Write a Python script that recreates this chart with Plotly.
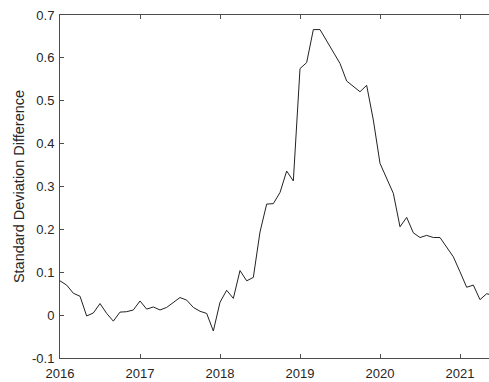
import plotly.graph_objects as go

# Monthly series, January 2016 onward
start_year = 2016
values = [
    0.080, 0.070, 0.051, 0.044, -0.002, 0.005, 0.027, 0.004, -0.014, 0.007, 0.008, 0.012,
    0.033, 0.014, 0.019, 0.012, 0.018, 0.029, 0.041, 0.035, 0.018, 0.009, 0.004, -0.037,
    0.030, 0.058, 0.039, 0.104, 0.080, 0.088, 0.194, 0.259, 0.260, 0.286, 0.336, 0.313,
    0.575, 0.589, 0.666, 0.666, 0.640, 0.614, 0.587, 0.546, 0.534, 0.521, 0.536, 0.455,
    0.354, 0.319, 0.284, 0.206, 0.228, 0.192, 0.181, 0.186, 0.181, 0.181, 0.159, 0.136,
    0.101, 0.065, 0.070, 0.036, 0.050, 0.046,
]
x_ticks = [2016, 2017, 2018, 2019, 2020, 2021]
x_tick_labels = ["2016", "2017", "2018", "2019", "2020", "2021"]
y_ticks = [-0.1, 0, 0.1, 0.2, 0.3, 0.4, 0.5, 0.6, 0.7]
y_tick_labels = ["-0.1", "0", "0.1", "0.2", "0.3", "0.4", "0.5", "0.6", "0.7"]
y_title = "Standard Deviation Difference"

dates = [start_year + k / 12 for k in range(len(values))]

axis_color = "#4d4d4d"
text_color = "#262626"
font_family = "Liberation Sans, Arial, sans-serif"

fig = go.Figure(
    go.Scatter(
        x=dates, y=values, mode="lines",
        line=dict(color="#222222", width=1),
        hoverinfo="skip",
    )
)

fig.update_layout(
    width=489, height=382,
    margin=dict(l=60, r=0, t=15, b=24),
    plot_bgcolor="white", paper_bgcolor="white",
    showlegend=False,
    font=dict(family=font_family, size=13, color=text_color),
)

fig.update_xaxes(
    range=[2016, 2016 + 429 / 80],
    tickvals=x_ticks, ticktext=x_tick_labels,
    ticks="inside", ticklen=4, tickwidth=1, tickcolor=axis_color,
    showline=True, linecolor=axis_color, linewidth=1, mirror="ticks",
    showgrid=False, zeroline=False,
    tickfont=dict(size=13, color=text_color),
    ticklabelstandoff=3,
)
fig.update_yaxes(
    range=[-0.1, 0.7],
    tickvals=y_ticks, ticktext=y_tick_labels,
    ticks="inside", ticklen=4, tickwidth=1, tickcolor=axis_color,
    showline=True, linecolor=axis_color, linewidth=1,
    showgrid=False, zeroline=False,
    tickfont=dict(size=13, color=text_color),
    ticklabelstandoff=2,
    title=dict(text=y_title, font=dict(size=14.5, color=text_color), standoff=3),
)

fig.write_html("out.html")
